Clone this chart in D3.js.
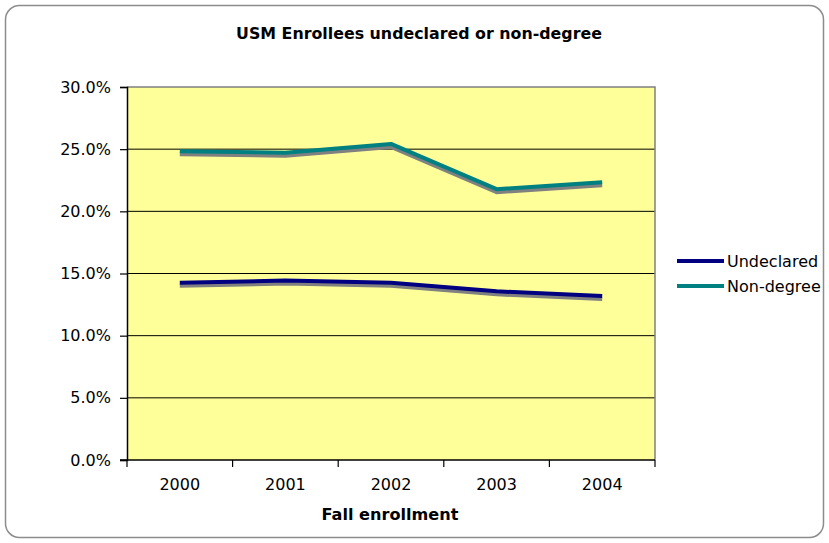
<!DOCTYPE html>
<html><head><meta charset="utf-8">
<script src="https://cdn.jsdelivr.net/npm/d3@7"></script>
<style>body{margin:0;background:#fff}svg{display:block}text{font-family:"DejaVu Sans",Verdana,sans-serif}</style>
</head><body><svg id="c" width="829" height="543"></svg>
<script>
const years = ["2000","2001","2002","2003","2004"];
const undeclared = [14.26, 14.43, 14.26, 13.57, 13.19];
const nonDegree = [24.83, 24.72, 25.42, 21.78, 22.34];
const yTicks = [0,5,10,15,20,25,30];
const seriesNames = ["Undeclared","Non-degree"];
const seriesColors = ["#000080","#008080"];

const svg = d3.select("#c");
svg.append("rect").attr("x",5.5).attr("y",5.5).attr("width",818).attr("height",532).attr("rx",14)
  .attr("fill","#fff").attr("stroke","#8c8c8c").attr("stroke-width",1.5);

const L=127,R=655,T=87,B=460;
const x = d3.scaleBand().domain(years).range([L,R]);
const y = d3.scaleLinear().domain([0,30]).range([B,T]);

svg.append("rect").attr("x",L).attr("y",T).attr("width",R-L).attr("height",B-T).attr("fill","#ffff99");
svg.append("g").selectAll("line").data(yTicks.filter(d=>d>0&&d<30)).join("line")
  .attr("x1",L).attr("x2",R).attr("y1",d=>y(d)).attr("y2",d=>y(d)).attr("stroke","#000").attr("stroke-width",1);
svg.append("path").attr("d",`M${L},${T}H${R}V${B}`).attr("fill","none").attr("stroke","#808080").attr("stroke-width",1.5);

const yAxis = d3.axisLeft(y).tickValues(yTicks).tickSize(7).tickPadding(9).tickFormat(d=>d3.format(".1f")(d)+"%");
const ga = svg.append("g").attr("transform",`translate(${L},0)`).call(yAxis);
ga.select(".domain").attr("stroke","#000").attr("stroke-width",1.5);
ga.selectAll("text").attr("font-size",16).attr("fill","#000");
ga.selectAll(".tick line").attr("stroke-width",1.2);

const xAxis = d3.axisBottom(x).tickSize(0).tickPadding(19);
const gx = svg.append("g").attr("transform",`translate(0,${B})`).call(xAxis);
gx.select(".domain").remove();
gx.selectAll("text").attr("font-size",16).attr("fill","#000");
svg.append("line").attr("x1",L-7).attr("x2",R).attr("y1",B).attr("y2",B).attr("stroke","#000").attr("stroke-width",1.5);
const bounds = years.map(d=>x(d)).concat([R]);
svg.append("g").selectAll("line").data(bounds).join("line")
  .attr("x1",d=>d).attr("x2",d=>d).attr("y1",B).attr("y2",B+7).attr("stroke","#000").attr("stroke-width",1.2);

const line = d3.line().x((d,i)=>x(years[i])+x.bandwidth()/2).y(d=>y(d));
[undeclared, nonDegree].forEach((s,k)=>{
  svg.append("path").attr("d",line(s)).attr("transform","translate(0,3)")
    .attr("fill","none").attr("stroke","#808080").attr("stroke-width",4).attr("stroke-linejoin","round");
  svg.append("path").attr("d",line(s)).attr("fill","none").attr("stroke",seriesColors[k]).attr("stroke-width",4).attr("stroke-linejoin","round");
});

function fit(t, w){ const n=t.node(); const l=n.getComputedTextLength(); const fs=+t.attr("font-size"); t.attr("font-size", (fs*w/l).toFixed(2)); }
const title = svg.append("text").attr("x",419).attr("y",38.5).attr("text-anchor","middle").attr("font-size",15).attr("font-weight","bold").text("USM Enrollees undeclared or non-degree");
fit(title, 366);
const xt = svg.append("text").attr("x",390).attr("y",520).attr("text-anchor","middle").attr("font-size",15).attr("font-weight","bold").text("Fall enrollment");
fit(xt, 137);

const lg = svg.append("g");
seriesNames.forEach((n,i)=>{
  const yy = 261 + i*25;
  lg.append("line").attr("x1",677).attr("x2",724).attr("y1",yy).attr("y2",yy).attr("stroke",seriesColors[i]).attr("stroke-width",4);
  lg.append("text").attr("x",727).attr("y",yy+6).attr("font-size",16).text(n);
});
</script></body></html>
